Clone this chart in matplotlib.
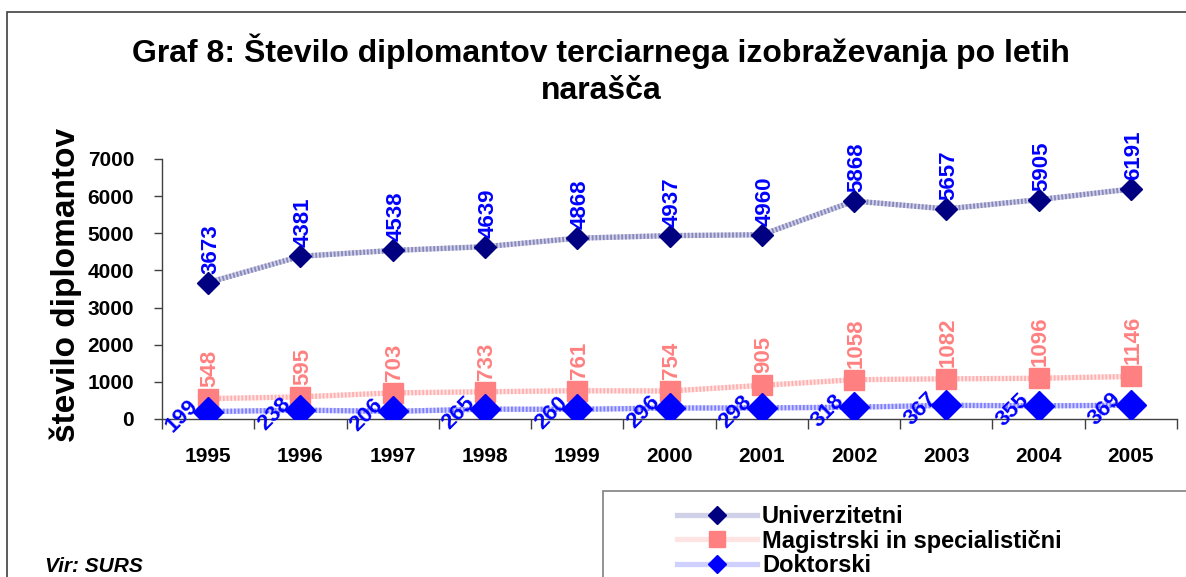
import matplotlib
matplotlib.use("Agg")
import matplotlib.pyplot as plt
from matplotlib.patches import Rectangle
from matplotlib.lines import Line2D

years = ["1995", "1996", "1997", "1998", "1999", "2000", "2001", "2002", "2003", "2004", "2005"]
univerzitetni = [3673, 4381, 4538, 4639, 4868, 4937, 4960, 5868, 5657, 5905, 6191]
magistrski = [548, 595, 703, 733, 761, 754, 905, 1058, 1082, 1096, 1146]
doktorski = [199, 238, 206, 265, 260, 296, 298, 318, 367, 355, 369]
series_names = ["Univerzitetni", "Magistrski in specialistični", "Doktorski"]
yticks = [0, 1000, 2000, 3000, 4000, 5000, 6000, 7000]

plt.rcParams['font.family'] = ['Liberation Sans', 'DejaVu Sans']
W, H = 1186, 577
fig = plt.figure(figsize=(W / 100, H / 100), dpi=100)

def fx(px):
    return px / W

def fy(py):
    return 1 - py / H

ax = fig.add_axes([fx(162), fy(419), fx(1177) - fx(162), fy(159) - fy(419)])
x = list(range(len(years)))

def striped(yvals, light, dark, marker, mcolor, msize, lmsize, label):
    ax.plot(x, yvals, color=light, lw=3.8, zorder=2, solid_capstyle='butt')
    ax.plot(x, yvals, color=dark, lw=3.8, zorder=2, linestyle=(0, (0.35, 0.35)))
    ax.plot(x, yvals, linestyle='none', marker=marker, color=mcolor, ms=msize,
            markeredgecolor=mcolor, zorder=4)
    return Line2D([], [], color=light, lw=3.8, marker=marker, markerfacecolor=mcolor,
                  markeredgecolor=mcolor, ms=lmsize, label=label)

h1 = striped(univerzitetni, '#d0d0e8', '#8888bb', 'D', '#000080', 11, 9, series_names[0])
h2 = striped(magistrski, '#ffe4e4', '#ffb0b0', 's', '#ff8080', 14, 11, series_names[1])
h3 = striped(doktorski, '#d0d0ff', '#8080ff', 'D', '#0000ff', 15, 9, series_names[2])

ax.set_xlim(-0.5, len(years) - 0.5)
ax.set_ylim(0, 7000)
ax.set_yticks(yticks)
ax.set_yticklabels([str(v) for v in yticks], fontsize=15, fontweight='bold')
ax.set_xticks(x)
ax.set_xticklabels(years, fontsize=15, fontweight='bold')
ax.set_xticks([i - 0.5 for i in range(len(years) + 1)], minor=True)
ax.tick_params(axis='x', which='major', length=0, pad=20)
ax.tick_params(axis='x', which='minor', length=7, width=1, color='#404040', direction='out')
ax.tick_params(axis='y', length=6, width=1, color='#404040', pad=14)
for s in ['top', 'right']:
    ax.spines[s].set_visible(False)
for s in ['left', 'bottom']:
    ax.spines[s].set_color('#404040')
    ax.spines[s].set_linewidth(1)
ax.set_facecolor('none')

fig.text(fx(66), fy(285), "število diplomantov", rotation=90, ha='center', va='center',
         fontsize=24, fontweight='bold')

# data labels
for i, v in enumerate(univerzitetni):
    ax.annotate(str(v), (i, v), xytext=(3, 9), textcoords='offset pixels',
                rotation=90, ha='center', va='bottom', fontsize=16, fontweight='bold',
                color='#0000ff', zorder=5)
for i, v in enumerate(magistrski):
    ax.annotate(str(v), (i, v), xytext=(2, 12), textcoords='offset pixels',
                rotation=90, ha='center', va='bottom', fontsize=16, fontweight='bold',
                color='#ff8080', zorder=5)
for i, v in enumerate(doktorski):
    ax.annotate(str(v), (i, v), xytext=(-26, -4), textcoords='offset pixels',
                rotation=45, ha='center', va='center', fontsize=16, fontweight='bold',
                color='#0000ff', zorder=3, annotation_clip=False)

# title
fig.text(fx(601), fy(51), "Graf 8: Število diplomantov terciarnega izobraževanja po letih",
         ha='center', va='center', fontsize=23, fontweight='bold')
fig.text(fx(601), fy(91), "narašča", ha='center', va='center', fontsize=23, fontweight='bold')

# outer frame
fig.add_artist(Rectangle((fx(7), fy(590)), fx(1200) - fx(7), fy(12) - fy(590),
                         transform=fig.transFigure, fill=False, edgecolor='#404040',
                         lw=1.2, clip_on=False))
# legend frame
fig.add_artist(Rectangle((fx(603), fy(590)), fx(1200) - fx(603), fy(491) - fy(590),
                         transform=fig.transFigure, fill=False, edgecolor='#808080',
                         lw=1.2, clip_on=False))

leg = fig.legend(handles=[h1, h2, h3], loc='upper left',
                 bbox_to_anchor=(fx(677), fy(505)), bbox_transform=fig.transFigure,
                 frameon=False, prop={'weight': 'bold', 'size': 17},
                 handlelength=3.4, handletextpad=0.2, labelspacing=0.07,
                 borderaxespad=0, borderpad=0)

fig.text(fx(45), fy(566), "Vir: SURS", ha='left', va='center', fontsize=15,
         fontweight='bold', fontstyle='italic')

fig.savefig("out.png", dpi=100)
